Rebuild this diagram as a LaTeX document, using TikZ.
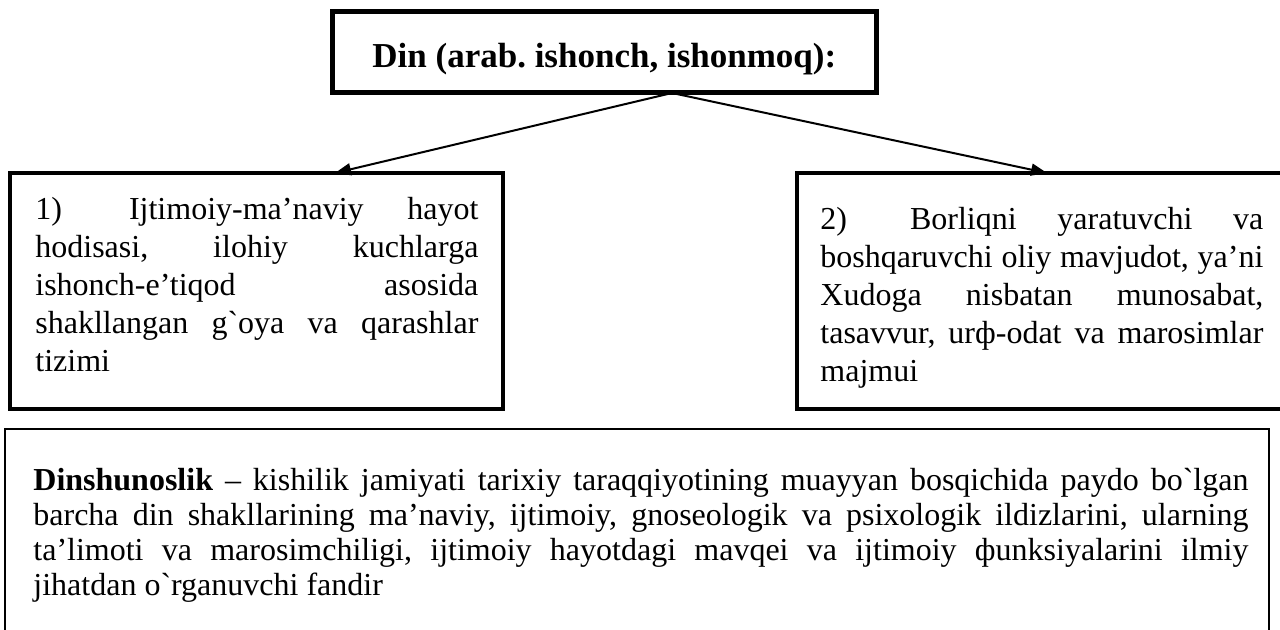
\documentclass[tikz,border=0pt]{standalone}
\usepackage{fontspec}
\setmainfont{Liberation Serif}[Ligatures=TeXOff]
\usetikzlibrary{arrows.meta}
\frenchspacing
\hbadness=10000
\tolerance=10000
\hyphenpenalty=10000
\exhyphenpenalty=10000
\tikzset{
  frame/.style={line width=2pt},
  topframe/.style={line width=2.5pt},
  thinframe/.style={line width=1.3pt},
  link/.style={line width=1pt,-{Triangle[length=8pt,width=6pt]}},
  boxtext/.style={anchor=north west,inner sep=0pt,text width=221.5pt,align=justify,
    font=\fontsize{16}{19}\selectfont},
  maintext/.style={boxtext,text width=607.5pt,font=\fontsize{16}{17.5}\selectfont}
}
\newcommand{\fs}{\rule{0pt}{12pt}}
\begin{document}
\begin{tikzpicture}[x=0.5pt,y=-0.5pt]
\useasboundingbox (0,0) rectangle (1280,630);
% corners of the boxes
\coordinate (T1) at (332,12);
\coordinate (T2) at (876,93);
\coordinate (L1) at (10,173);
\coordinate (L2) at (503,409);
\coordinate (R1) at (797,173);
\coordinate (R2) at (1290,409);
\coordinate (B1) at (5,429);
\coordinate (B2) at (1269,650);
% arrow ends
\coordinate (O) at (672,93);
\coordinate (LA) at (335,173);
\coordinate (RA) at (1047,173);
\draw [topframe] (T1) rectangle (T2);
\draw [frame] (L1) rectangle (L2);
\draw [frame] (R1) rectangle (R2);
\draw [thinframe] (B1) rectangle (B2);
\draw [link] (O) -- (LA);
\draw [link] (O) -- (RA);
\node [anchor=base west,inner sep=0pt,font=\fontsize{17.5}{20}\selectfont\bfseries] (din) at (372,68) {Din (arab. ishonch, ishonmoq):};
\node [boxtext] (def1) at (35,195) {\fs 1)\hspace{33.5pt}Ijtimoiy-ma’naviy hayot\linebreak hodisasi, ilohiy kuchlarga\linebreak ishonch-e’tiqod asosida\linebreak shakllangan g`oya va qarashlar\linebreak tizimi};
\node [boxtext] (def2) at (820,205) {\fs 2)\hspace{31.5pt}Borliqni yaratuvchi va\linebreak boshqaruvchi oliy mavjudot, ya’ni\linebreak Xudoga nisbatan munosabat,\linebreak tasavvur, urф-odat va marosimlar\linebreak majmui};
\node [maintext] (fan) at (33,466) {\fs\textbf{Dinshunoslik} – kishilik jamiyati tarixiy taraqqiyotining muayyan bosqichida paydo bo`lgan\linebreak barcha din shakllarining ma’naviy, ijtimoiy, gnoseologik va psixologik ildizlarini, ularning\linebreak ta’limoti va marosimchiligi, ijtimoiy hayotdagi mavqei va ijtimoiy фunksiyalarini ilmiy\linebreak jihatdan o`rganuvchi fandir};
\end{tikzpicture}
\end{document}
